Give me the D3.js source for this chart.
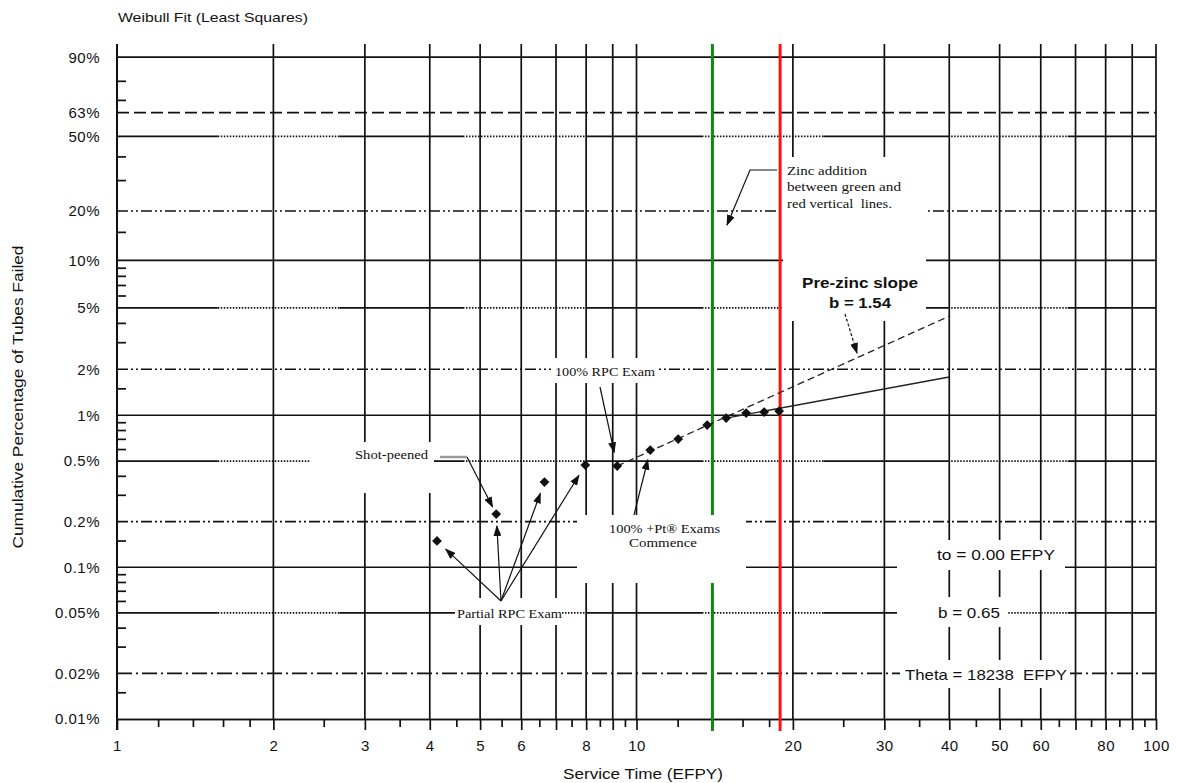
<!DOCTYPE html>
<html>
<head>
<meta charset="utf-8">
<style>
  body { margin: 0; background: #fff; }
  svg { display: block; }
  .sans { font-family: "Liberation Sans", Arial, sans-serif; fill: #111; white-space: pre; }
  .serif { font-family: "Liberation Serif", "Times New Roman", serif; fill: #111; white-space: pre; }
</style>
</head>
<body>
<div id="chart"></div>
<script src="https://d3js.org/d3.v7.min.js"></script>
<script>
// ---- data ----
const serviceTime = [4.13, 5.37, 6.65, 7.97, 9.18, 10.63, 12.03, 13.68, 14.88, 16.26, 17.61, 18.82];
const pctFailed   = [0.149, 0.224, 0.364, 0.471, 0.464, 0.591, 0.698, 0.862, 0.958, 1.033, 1.049, 1.065];

// fitted lines (end points, EFPY / % failed)
const preZincX = [9.18, 40];
const preZincPct = [0.464, 4.42];
const fitX = [14.88, 40];
const fitPct = [0.958, 1.78];

// zinc addition window (EFPY)
const zincStart = 14;
const zincEnd = 18.9;

// axes
const xMajor = [1, 2, 3, 4, 5, 6, 7, 8, 9, 10, 20, 30, 40, 50, 60, 70, 80, 90, 100];
const xLabels = [1, 2, 3, 4, 5, 6, 8, 10, 20, 30, 40, 50, 60, 80, 100];
const xMinor = [1.2, 1.4, 1.6, 1.8, 2.5, 3.5, 4.5, 5.5, 6.5, 7.5, 8.5, 9.5, 12, 14, 16, 18, 25, 35, 45, 55, 65, 75, 85, 95];
const yLabels = [90, 63, 50, 20, 10, 5, 2, 1, 0.5, 0.2, 0.1, 0.05, 0.02, 0.01];
const yMinor = [80, 70, 40, 30, 15, 9, 8, 7, 6, 4, 3, 1.5, 0.9, 0.8, 0.7, 0.6, 0.4, 0.3, 0.15, 0.09, 0.08, 0.07, 0.06, 0.04, 0.03, 0.015];

// gridline styles per y level
const ySolid = [90, 10, 1, 0.1];
const yDashed = [63];
const ySplit = [50, 5, 0.5, 0.05];
const yDashDotDot = [20, 2, 0.2];
const yDashDot = [0.02];

// ---- layout ----
const width = 1177, height = 783;
const mLeft = 117, mRight = 1156, mTop = 44, mBottom = 719;
const splitFrac = [0, 0.097, 0.214, 0.333, 0.452, 0.563, 0.68, 0.8, 0.915, 1];

const svg = d3.select('#chart').append('svg')
  .attr('width', width).attr('height', height);

svg.append('defs').append('marker')
  .attr('id', 'arrow')
  .attr('markerUnits', 'userSpaceOnUse')
  .attr('markerWidth', 11).attr('markerHeight', 8)
  .attr('refX', 10).attr('refY', 4)
  .attr('orient', 'auto')
  .append('path').attr('d', 'M0,0 L11,4 L0,8 Z').attr('fill', '#111');

const W = p => Math.log(-Math.log(1 - p / 100));
const x = d3.scaleLog().domain([1, 100]).range([mLeft, mRight]);
const yw = d3.scaleLinear().domain([W(94), W(0.01)]).range([mTop, mBottom]);
const y = p => yw(W(p));

const grid = svg.append('g').attr('stroke', '#111').attr('stroke-width', 1.7).attr('fill', 'none');

// vertical grid
grid.selectAll('.vg').data(xMajor).enter().append('line')
  .attr('x1', d => x(d)).attr('x2', d => x(d))
  .attr('y1', mTop).attr('y2', mBottom)
  .attr('stroke-width', d => d === 1 ? 2 : 1.7);

function hline(levels, dash) {
  grid.selectAll(null).data(levels).enter().append('line')
    .attr('x1', mLeft).attr('x2', mRight)
    .attr('y1', d => y(d)).attr('y2', d => y(d))
    .attr('stroke-dasharray', dash);
}
hline(ySolid, null);
hline(yDashed, '12,5');
hline(yDashDotDot, '11,3,2,3,2,3');
hline(yDashDot, '15,4,2,4');

ySplit.forEach(p => {
  for (let i = 0; i < splitFrac.length - 1; i++) {
    grid.append('line')
      .attr('x1', mLeft + splitFrac[i] * (mRight - mLeft))
      .attr('x2', mLeft + splitFrac[i + 1] * (mRight - mLeft))
      .attr('y1', y(p)).attr('y2', y(p))
      .attr('stroke-dasharray', i % 2 ? '1.5,1.5' : null);
  }
});

// x axis
const xAxis = svg.append('g').attr('transform', `translate(0,${mBottom})`)
  .call(d3.axisBottom(x).tickValues(xMajor).tickSize(11).tickSizeOuter(0).tickPadding(10)
    .tickFormat(d => xLabels.includes(d) ? d : ''));
const xAxisMinor = svg.append('g').attr('transform', `translate(0,${mBottom})`)
  .call(d3.axisBottom(x).tickValues(xMinor).tickSize(8).tickSizeOuter(0).tickFormat(''));
[xAxis, xAxisMinor].forEach(g => {
  g.selectAll('line').attr('stroke', '#111').attr('stroke-width', 1.7);
  g.select('.domain').attr('stroke', '#111').attr('stroke-width', 1.7);
});
xAxis.selectAll('text').attr('class', 'sans').style('font-size', '15px').style('letter-spacing', '0.5px');

// y axis (on the Weibull scale)
const yAxis = svg.append('g').attr('transform', `translate(${mLeft},0)`)
  .call(d3.axisLeft(yw).tickValues(yLabels.map(W)).tickSize(0).tickPadding(17)
    .tickFormat((d, i) => yLabels[i] + '%'));
yAxis.select('.domain').remove();
yAxis.selectAll('text').attr('class', 'sans').style('font-size', '15px').style('letter-spacing', '0.5px');

const yAxisMinor = svg.append('g').attr('transform', `translate(${mLeft},0)`)
  .call(d3.axisLeft(yw).tickValues(yMinor.map(W)).tickSize(-9).tickFormat(''));
yAxisMinor.select('.domain').remove();
yAxisMinor.selectAll('line').attr('stroke', '#111').attr('stroke-width', 1.7);

// left axis
svg.append('line').attr('x1', mLeft).attr('x2', mLeft).attr('y1', mTop).attr('y2', mBottom + 11)
  .attr('stroke', '#111').attr('stroke-width', 2);

// green line (start of zinc)
svg.append('line').attr('x1', x(zincStart)).attr('x2', x(zincStart))
  .attr('y1', mTop).attr('y2', mBottom + 12)
  .attr('stroke', '#118811').attr('stroke-width', 3);

// white label boxes over the grid
const masks = [
  [310, 442, 434, 493],
  [551, 358, 658, 383],
  [577, 515, 746, 583],
  [455, 598, 562, 625],
  [783, 157, 926, 321],
  [897, 540, 1065, 570],
  [897, 597, 1007, 627],
  [900, 660, 1070, 688]
];
svg.append('g').selectAll('rect').data(masks).enter().append('rect')
  .attr('x', d => d[0]).attr('y', d => d[1])
  .attr('width', d => d[2] - d[0]).attr('height', d => d[3] - d[1])
  .attr('fill', '#fff');

// red line (end of zinc)
svg.append('line').attr('x1', x(zincEnd)).attr('x2', x(zincEnd))
  .attr('y1', mTop).attr('y2', mBottom + 12)
  .attr('stroke', '#ff1111').attr('stroke-width', 3);

// fit lines
const line = d3.line().x(d => x(d[0])).y(d => y(d[1]));
svg.append('path').datum(d3.zip(preZincX, preZincPct)).attr('d', line)
  .attr('fill', 'none').attr('stroke', '#222').attr('stroke-width', 1.3).attr('stroke-dasharray', '7,4');
svg.append('path').datum(d3.zip(fitX, fitPct)).attr('d', line)
  .attr('fill', 'none').attr('stroke', '#222').attr('stroke-width', 1.3);

// data points
const pts = d3.zip(serviceTime, pctFailed);
svg.append('g').selectAll('path').data(pts).enter().append('path')
  .attr('d', d3.symbol(d3.symbolSquare, 48))
  .attr('transform', d => `translate(${x(d[0])},${y(d[1])}) rotate(45)`)
  .attr('fill', '#111');

// annotations
const P = i => [x(serviceTime[i]), y(pctFailed[i])];
function toward(from, i, back) {
  const p = P(i);
  const dx = from[0] - p[0], dy = from[1] - p[1];
  const n = Math.hypot(dx, dy);
  return [p[0] + dx / n * back, p[1] + dy / n * back];
}
const arrows = svg.append('g').attr('fill', 'none').attr('stroke', '#111').attr('stroke-width', 1.2);
function arrow(pointsArr, dash) {
  arrows.append('path').attr('d', d3.line()(pointsArr))
    .attr('marker-end', 'url(#arrow)')
    .attr('stroke-dasharray', dash || null);
}
const partialTail = [501, 601];
[0, 1, 2, 3].forEach(i => arrow([partialTail, toward(partialTail, i, 12)]));

svg.append('line').attr('x1', 440).attr('x2', 467).attr('y1', 457).attr('y2', 457)
  .attr('stroke', '#999').attr('stroke-width', 2.5);
arrow([[467, 457], toward([467, 457], 1, 8)]);
arrow([[600, 387], toward([600, 387], 4, 14)]);
arrow([[634, 515], toward([634, 515], 5, 10)]);
arrow([[777, 170], [750, 170], [727, 225]]);
arrow([[845, 314], [857, 353]], '3,2');

const serifNotes = [
  ['Shot-peened', 355, 459, 73],
  ['Partial RPC Exam', 457, 618, 105],
  ['100% RPC Exam', 555, 376, 100],
  ['100% +Pt\u00AE Exams', 609, 533, 111],
  ['Commence', 629, 547, 68],
  ['Zinc addition', 787, 175, 80],
  ['between green and', 787, 191, 114],
  ['red vertical  lines.', 787, 208, 105]
];
svg.append('g').selectAll('text').data(serifNotes).enter().append('text')
  .attr('class', 'serif')
  .attr('x', d => d[1]).attr('y', d => d[2])
  .attr('textLength', d => d[3]).attr('lengthAdjust', 'spacingAndGlyphs')
  .style('font-size', '13.5px')
  .text(d => d[0]);

const sansNotes = [
  ['Pre-zinc slope', 802, 288, 116, 'bold'],
  ['b = 1.54', 829, 308, 62, 'bold'],
  ['to = 0.00 EFPY', 937, 560, 118, 'normal'],
  ['b = 0.65', 938, 618, 62, 'normal'],
  ['Theta = 18238  EFPY', 905, 680, 162, 'normal']
];
svg.append('g').selectAll('text').data(sansNotes).enter().append('text')
  .attr('class', 'sans')
  .attr('x', d => d[1]).attr('y', d => d[2])
  .attr('textLength', d => d[3]).attr('lengthAdjust', 'spacingAndGlyphs')
  .style('font-size', '15px').style('font-weight', d => d[4])
  .text(d => d[0]);

// titles
svg.append('text').attr('class', 'sans')
  .attr('x', 118).attr('y', 22)
  .attr('textLength', 190).attr('lengthAdjust', 'spacingAndGlyphs')
  .style('font-size', '13.5px')
  .text('Weibull Fit (Least Squares)');

svg.append('text').attr('class', 'sans')
  .attr('x', 643).attr('y', 779).attr('text-anchor', 'middle')
  .attr('textLength', 160).attr('lengthAdjust', 'spacingAndGlyphs')
  .style('font-size', '15px')
  .text('Service Time (EFPY)');

svg.append('text').attr('class', 'sans')
  .attr('transform', 'translate(23,397) rotate(-90)').attr('text-anchor', 'middle')
  .attr('textLength', 303).attr('lengthAdjust', 'spacingAndGlyphs')
  .style('font-size', '15px')
  .text('Cumulative Percentage of Tubes Failed');
</script>
</body>
</html>
